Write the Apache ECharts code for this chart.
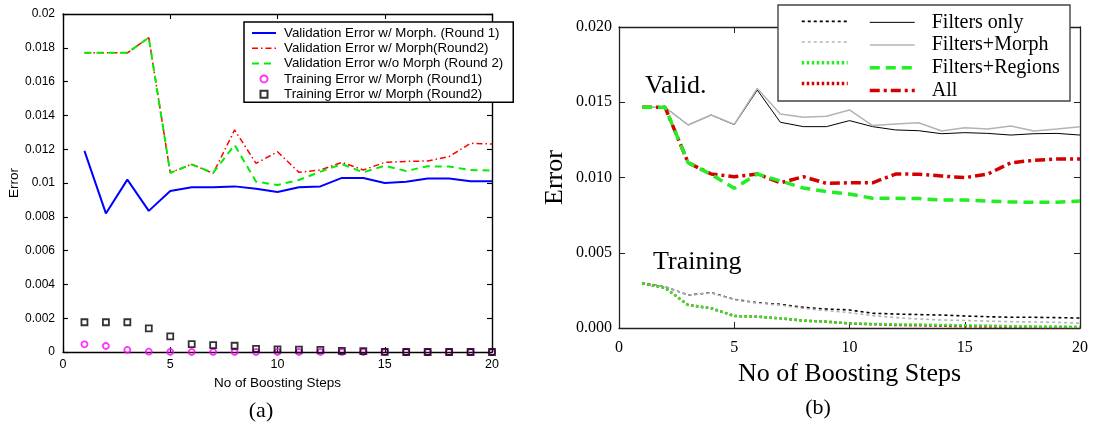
<!DOCTYPE html>
<html><head><meta charset="utf-8">
<script src="https://cdn.jsdelivr.net/npm/echarts@6/dist/echarts.min.js"></script>
<style>html,body{margin:0;padding:0;background:#fff}#c{width:1096px;height:430px}</style>
</head><body><div id="c"></div>
<script>
// ---------- data ----------
const steps = [1,2,3,4,5,6,7,8,9,10,11,12,13,14,15,16,17,18,19,20];

// panel (a)
const namesA = ['Validation Error w/ Morph. (Round 1)', 'Validation Error w/ Morph(Round2)', 'Validation Error w/o Morph (Round 2)', 'Training Error w/ Morph (Round1)', 'Training Error w/ Morph (Round2)'];
const valMorphR1 = [0.0119, 0.0082, 0.0102, 0.00835, 0.00953, 0.00975, 0.00975, 0.0098, 0.00966, 0.00947, 0.00975, 0.0098, 0.0103, 0.0103, 0.0100, 0.01008, 0.01027, 0.01027, 0.0101, 0.0101];
const valMorphR2 = [0.0177, 0.0177, 0.0177, 0.0186, 0.01061, 0.01111, 0.01057, 0.01314, 0.01116, 0.01185, 0.01063, 0.01077, 0.01122, 0.01077, 0.01122, 0.01128, 0.0113, 0.01156, 0.01235, 0.01231];
const valNoMorphR2 = [0.0177, 0.0177, 0.0177, 0.0186, 0.0106, 0.0111, 0.0106, 0.01225, 0.01008, 0.00988, 0.01018, 0.01067, 0.01112, 0.01063, 0.01102, 0.01071, 0.01099, 0.01097, 0.01077, 0.01074];
const trainR1 = [0.000455, 0.000355, 0.00012, 0.00002, 0, 0, 0, 0, 0, 0, 0, 0, 0, 0, 0, 0, 0, 0, 0, 0];
const trainR2 = [0.00176, 0.00176, 0.00176, 0.0014, 0.00093, 0.00047, 0.00041, 0.00037, 0.00018, 0.00016, 0.00014, 0.00012, 0.00007, 0.00005, 0.00001, 0, 0, 0, 0, 0];

// panel (b)
const namesB = ['Filters only', 'Filters+Morph', 'Filters+Regions', 'All'];
const vFilters = [0.01466, 0.01466, 0.01349, 0.01415, 0.01351, 0.01581, 0.01367, 0.01338, 0.01338, 0.01378, 0.01338, 0.01316, 0.01311, 0.01291, 0.01298, 0.01293, 0.01282, 0.01291, 0.01293, 0.01282];
const vMorph = [0.01466, 0.01466, 0.01349, 0.01415, 0.01353, 0.01592, 0.01422, 0.01400, 0.01407, 0.01449, 0.01345, 0.01355, 0.01364, 0.01309, 0.01331, 0.01322, 0.01342, 0.01309, 0.01322, 0.01338];
const vRegions = [0.01466, 0.01466, 0.01098, 0.0102, 0.00928, 0.01023, 0.00977, 0.0093, 0.00906, 0.0089, 0.00862, 0.00862, 0.0086, 0.0085, 0.0085, 0.00844, 0.00837, 0.00835, 0.00835, 0.00844];
const vAll = [0.01466, 0.01466, 0.01098, 0.01023, 0.01005, 0.01023, 0.00965, 0.01005, 0.00961, 0.00965, 0.00965, 0.01023, 0.01022, 0.0101, 0.00999, 0.01023, 0.01098, 0.01114, 0.01123, 0.01123];
const tFilters = [0.00297, 0.00274, 0.00219, 0.00235, 0.0019, 0.00168, 0.00157, 0.00137, 0.00126, 0.0012, 0.00098, 0.00093, 0.00089, 0.00086, 0.0008, 0.00075, 0.00071, 0.00071, 0.00069, 0.00066];
const tMorph = [0.00297, 0.00274, 0.00219, 0.00233, 0.00188, 0.00165, 0.00152, 0.0013, 0.00115, 0.00102, 0.00082, 0.00069, 0.0006, 0.00053, 0.0005, 0.00046, 0.00042, 0.0004, 0.00038, 0.00031];
const tRegions = [0.00297, 0.00266, 0.00153, 0.00131, 0.0008, 0.00075, 0.00064, 0.00049, 0.00042, 0.00031, 0.00027, 0.00024, 0.00023, 0.0002, 0.00018, 0.00016, 0.00012, 0.0001, 0.0001, 0.00008];
const tAll = [0.00297, 0.00266, 0.00153, 0.00131, 0.0008, 0.00075, 0.00064, 0.00049, 0.00042, 0.0003, 0.00025, 0.0002, 0.00018, 0.00015, 0.00012, 0.0001, 0.00008, 0.00006, 0.00005, 0.00004];

// ---------- chart ----------
const SANS = "'Liberation Sans', Arial, sans-serif";
const SERIF = "'Liberation Serif', 'Times New Roman', serif";
const pairs = vals => steps.map((s, i) => [s, vals[i]]);
const chart = echarts.init(document.getElementById('c'), null, {renderer: 'canvas'});

function axisSet(gridIndex, o) {
  const common = {
    gridIndex, type: 'value', min: 0, splitLine: {show: false},
    axisLine: {show: true, onZero: false, lineStyle: {color: o.color, width: o.lw}},
    axisTick: {show: true, inside: true, length: o.tick, lineStyle: {color: o.color, width: o.lw * 0.8}},
  };
  const x = [
    Object.assign({}, common, {position: 'bottom', max: 20, interval: 5,
      name: 'No of Boosting Steps', nameLocation: 'middle', nameGap: o.xNameGap,
      nameTextStyle: {fontFamily: o.font, fontSize: o.nameSize, color: '#000'},
      axisLabel: {fontFamily: o.font, fontSize: o.xLabelSize, color: '#000', margin: o.xMargin}}),
    Object.assign({}, common, {position: 'top', max: 20, interval: 5, axisLabel: {show: false}})
  ];
  const y = [
    Object.assign({}, common, {position: 'left', max: 0.02, interval: o.yInt,
      name: 'Error', nameLocation: 'middle', nameGap: o.yNameGap,
      nameTextStyle: {fontFamily: o.font, fontSize: o.nameSize, color: '#000'},
      axisLabel: {fontFamily: o.font, fontSize: o.yLabelSize, color: '#000', margin: o.yMargin, formatter: o.fmt}}),
    Object.assign({}, common, {position: 'right', max: 0.02, interval: o.yInt, axisLabel: {show: false}})
  ];
  return {x, y};
}

const axA = axisSet(0, {color: '#000', lw: 1.4, tick: 5, font: SANS, nameSize: 13.5, xLabelSize: 12.5, yLabelSize: 12,
  xNameGap: 19, yNameGap: 37, xMargin: 6, yMargin: 8, yInt: 0.002,
  fmt: v => v === 0 ? '0' : String(parseFloat(v.toFixed(3)))});
const axB = axisSet(1, {color: '#222', lw: 1.3, tick: 6, font: SERIF, nameSize: 26, xLabelSize: 16, yLabelSize: 16,
  xNameGap: 31, yNameGap: 51, xMargin: 12, yMargin: 7, yInt: 0.005,
  fmt: v => v.toFixed(3)});

const lineS = (name, data, xi, yi, color, width, type, z) => ({
  name, type: 'line', xAxisIndex: xi, yAxisIndex: yi, data: pairs(data), symbol: 'none',
  lineStyle: {color, width, type}, itemStyle: {color}, z: z || 2, silent: true
});
const scatS = (name, data, symbol, color, z) => ({
  name, type: 'scatter', xAxisIndex: 0, yAxisIndex: 0, data: pairs(data), symbol, symbolSize: 6,
  itemStyle: {color: 'rgba(0,0,0,0)', borderColor: color, borderWidth: 1.8}, z: z || 3, silent: true
});

const trainNames = namesB.map(n => n + ' (training)');
const noSym = {opacity: 0};

const option = {
  animation: false,
  backgroundColor: '#fff',
  grid: [
    {left: 63, top: 14, width: 429, height: 338},
    {left: 619, top: 27, width: 461, height: 301}
  ],
  xAxis: [axA.x[0], axA.x[1], axB.x[0], axB.x[1]],
  yAxis: [axA.y[0], axA.y[1], axB.y[0], axB.y[1]],
  legend: [
    {
      data: [
        {name: namesA[0], itemStyle: noSym}, {name: namesA[1], itemStyle: noSym}, {name: namesA[2], itemStyle: noSym},
        {name: namesA[3], icon: 'circle'}, {name: namesA[4], icon: 'path://M0,0H10V10H0Z'}
      ],
      orient: 'vertical', left: 244, top: 22, itemWidth: 24, itemHeight: 7, itemGap: 0.3,
      padding: [3.5, 10, 0.5, 7], borderColor: '#000', borderWidth: 1.5, backgroundColor: '#fff',
      selectedMode: false, z: 20, symbolKeepAspect: true,
      lineStyle: {width: 'inherit'},
      textStyle: {fontFamily: SANS, fontSize: 13.3, color: '#000', lineHeight: 15, padding: [0, 0, 0, 3]}
    },
    {
      data: [
        {name: trainNames[0], itemStyle: noSym, lineStyle: {width: 1.6}},
        {name: trainNames[1], itemStyle: noSym, lineStyle: {width: 1.6}},
        {name: trainNames[2], itemStyle: noSym, lineStyle: {width: 3.5}},
        {name: trainNames[3], itemStyle: noSym, lineStyle: {width: 3.5}}
      ],
      orient: 'vertical', left: 800, top: 17.35, itemWidth: 46, itemHeight: 10, itemGap: 12.7,
      padding: 0, selectedMode: false, z: 20, formatter: () => '',
      lineStyle: {width: 'inherit'},
      textStyle: {fontFamily: SERIF, fontSize: 20, lineHeight: 10}
    },
    {
      data: namesB.map(n => ({name: n, itemStyle: noSym})),
      orient: 'vertical', left: 868, top: 11, itemWidth: 45, itemHeight: 10, itemGap: 0,
      padding: 0, selectedMode: false, z: 20,
      lineStyle: {width: 'inherit'},
      textStyle: {fontFamily: SERIF, fontSize: 20, color: '#000', lineHeight: 22.7, padding: [0, 0, 0, 12]}
    }
  ],
  series: [
    lineS(namesA[0], valMorphR1, 0, 0, '#0000ff', 2, 'solid', 2),
    lineS(namesA[1], valMorphR2, 0, 0, '#ff0000', 1.5, [6, 3, 1.5, 3], 2),
    lineS(namesA[2], valNoMorphR2, 0, 0, '#00ee00', 2, [7, 5], 2),
    scatS(namesA[3], trainR1, 'circle', '#ff00ff', 3),
    scatS(namesA[4], trainR2, 'rect', '#000000', 4),

    lineS(trainNames[0], tFilters, 2, 2, '#000000', 1.6, [3, 3], 2),
    lineS(trainNames[1], tMorph, 2, 2, '#b4b4b4', 1.6, [3, 3], 2),
    lineS(trainNames[3], tAll, 2, 2, '#d40000', 2.5, [2.5, 2.5], 2),
    lineS(trainNames[2], tRegions, 2, 2, '#22ee22', 2.5, [2.5, 2.5], 2),
    lineS(namesB[0], vFilters, 2, 2, '#000000', 1, 'solid', 2),
    lineS(namesB[1], vMorph, 2, 2, '#b4b4b4', 1.5, 'solid', 2),
    lineS(namesB[3], vAll, 2, 2, '#d40000', 3.5, [10, 4, 3, 4], 2),
    lineS(namesB[2], vRegions, 2, 2, '#22ee22', 3.5, [10, 6], 2)
  ],
  graphic: [
    {type: 'rect', shape: {x: 778, y: 5, width: 292, height: 96}, z: 10,
      style: {fill: '#fff', stroke: '#444', lineWidth: 1.4}},
    {type: 'text', x: 645, y: 86, z: 10, style: {text: 'Valid.', font: '26px ' + SERIF, fill: '#000', align: 'left', verticalAlign: 'middle'}},
    {type: 'text', x: 653, y: 262, z: 10, style: {text: 'Training', font: '26px ' + SERIF, fill: '#000', align: 'left', verticalAlign: 'middle'}},
    {type: 'text', x: 261, y: 411, z: 10, style: {text: '(a)', font: '22px ' + SERIF, fill: '#000', align: 'center', verticalAlign: 'middle'}},
    {type: 'text', x: 818, y: 408, z: 10, style: {text: '(b)', font: '22px ' + SERIF, fill: '#000', align: 'center', verticalAlign: 'middle'}}
  ]
};
chart.setOption(option);
</script>
</body></html>
